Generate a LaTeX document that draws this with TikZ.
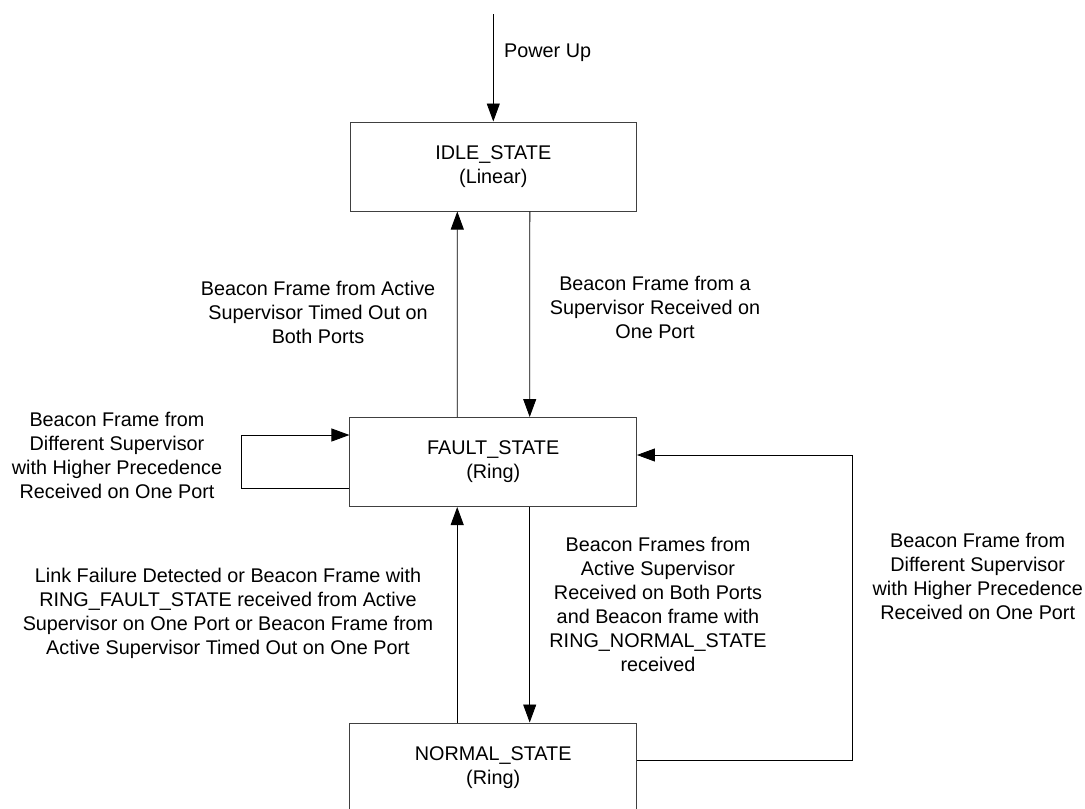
\documentclass[tikz,border=0pt]{standalone}
\usepackage{fontspec}
\setmainfont{Liberation Sans}
\usetikzlibrary{arrows.meta}
\begin{document}
\begin{tikzpicture}[x=1pt,y=-1pt,
  every node/.style={font=\fontsize{19.8}{24}\selectfont},
  statebox/.style={draw=black!75,line width=1pt,minimum width=286.5pt,minimum height=89pt,align=center,inner sep=0pt},
  lbl/.style={align=center,inner sep=0pt},
  arr/.style={line width=0.9pt,-{Triangle[length=18pt,width=13pt]}},
  ln/.style={line width=0.9pt}]
\useasboundingbox (0,0) rectangle (1085,809);
\node[statebox] (idle) at (493.3,166.5) {IDLE\_STATE\\(Linear)};
\node[statebox] (fault) at (493.2,462) {FAULT\_STATE\\(Ring)};
\node[statebox] (normal) at (493.2,767.5) {NORMAL\_STATE\\(Ring)};
\coordinate (pu) at (493.3,14);
\node[lbl,anchor=west] (lpu) at (504,53) {Power Up};
\draw[arr] (pu) -- (idle.north);
\draw[arr] ([xshift=-36pt]fault.north) -- ([xshift=-36pt]idle.south);
\draw[arr] ([xshift=36.5pt]idle.south) -- ([xshift=36.5pt]fault.north);
\draw[arr] ([xshift=-36pt]normal.north) -- ([xshift=-36pt]fault.south);
\draw[arr] ([xshift=36.5pt]fault.south) -- ([xshift=36.5pt]normal.north);
\draw[arr] ([yshift=-26pt]fault.west) -- ++(-108,0) |- ([yshift=27pt]fault.west);
\draw[arr] ([yshift=7.5pt]normal.east) -- ++(215.5,0) |- ([yshift=7pt]fault.east);
\node[lbl] (l1) at (318,312.5) {Beacon Frame from Active\\Supervisor Timed Out on\\Both Ports};
\node[lbl] (l2) at (655,307.5) {Beacon Frame from a\\Supervisor Received on\\One Port};
\node[lbl] (l3) at (117,455) {Beacon Frame from\\Different Supervisor\\with Higher Precedence\\Received on One Port};
\node[lbl] (l4) at (228,613) {Link Failure Detected or Beacon Frame with\\RING\_FAULT\_STATE received from Active\\Supervisor on One Port or Beacon Frame from\\Active Supervisor Timed Out on One Port};
\node[lbl] (l5) at (658,604) {Beacon Frames from\\Active Supervisor\\Received on Both Ports\\and Beacon frame with\\RING\_NORMAL\_STATE\\received};
\node[lbl] (l6) at (977.7,576) {Beacon Frame from\\Different Supervisor\\with Higher Precedence\\Received on One Port};
\end{tikzpicture}
\end{document}
